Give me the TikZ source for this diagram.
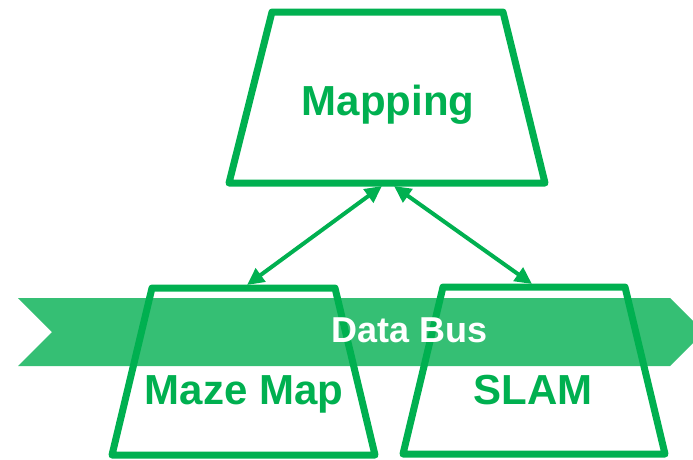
\documentclass[tikz,border=0pt]{standalone}
\usepackage{fontspec}
\setmainfont{Liberation Sans}
\usetikzlibrary{arrows.meta}
\definecolor{lineGreen}{HTML}{00B050}
\definecolor{busGreen}{HTML}{35BF74}
\tikzset{
  trap/.style={draw=lineGreen, line width=7pt, line join=round},
  lbl/.style={text=lineGreen, font=\bfseries\fontsize{42}{50}\selectfont, inner sep=0pt, anchor=center},
  buslbl/.style={text=white, font=\bfseries\fontsize{36}{42}\selectfont, inner sep=0pt, anchor=center},
  link/.style={draw=lineGreen, line width=4pt, {Triangle[length=17pt,width=16pt]}-{Triangle[length=17pt,width=16pt]}}
}
\begin{document}
\begin{tikzpicture}[x=1pt,y=-1pt]
\useasboundingbox (0,0) rectangle (693,459);
\clip (0,0) rectangle (693,459);
% data bus band
\fill[busGreen] (18,298) -- (670,298) -- (704,332) -- (670,366) -- (18,366) -- (52,332) -- cycle;
% trapezoids
\draw[trap] (272,12) -- (503,12) -- (545,183) -- (229,183) -- cycle;
\draw[trap] (152,288) -- (335,288) -- (375,455) -- (112,455) -- cycle;
\draw[trap] (443,287) -- (625,287) -- (665,454) -- (403,454) -- cycle;
% labels
\node[lbl] (mapping) at (388,105) {Mapping};
\node[lbl] (maze) at (244,394) {Maze Map};
\node[lbl] (slam) at (533,390) {SLAM};
\node[buslbl] (bus) at (410,330) {Data Bus};
% connector ends
\coordinate (mapA) at (382,186);
\coordinate (mapB) at (394,186);
\coordinate (mazeTop) at (247,285);
\coordinate (slamTop) at (532,284);
\draw[link] (mapA) -- (mazeTop);
\draw[link] (mapB) -- (slamTop);
\end{tikzpicture}
\end{document}
